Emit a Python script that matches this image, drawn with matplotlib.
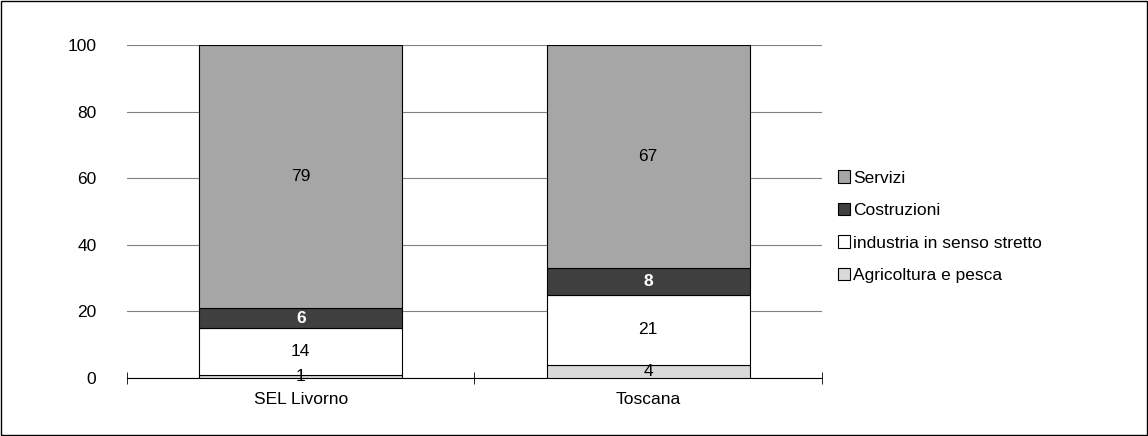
import matplotlib.pyplot as plt
import numpy as np

plt.rcParams['font.family'] = ['Liberation Sans', 'DejaVu Sans']

categories = ['SEL Livorno', 'Toscana']
series = ['Agricoltura e pesca', 'industria in senso stretto', 'Costruzioni', 'Servizi']
values = {
    'Agricoltura e pesca': [1, 4],
    'industria in senso stretto': [14, 21],
    'Costruzioni': [6, 8],
    'Servizi': [79, 67],
}
colors = {
    'Agricoltura e pesca': '#d9d9d9',
    'industria in senso stretto': '#ffffff',
    'Costruzioni': '#404040',
    'Servizi': '#a6a6a6',
}
FS = 12.5

fig = plt.figure(figsize=(11.48, 4.36), dpi=100)
fig.patches.append(plt.Rectangle((0.001, 0.002), 0.998, 0.996, transform=fig.transFigure,
                                 fill=False, edgecolor='black', linewidth=1))
ax = fig.add_axes([0.1106, 0.133, 0.6054, 0.764])

x = np.arange(len(categories))
bottom = np.zeros(len(categories))
handles = []
for s in series:
    v = np.array(values[s], dtype=float)
    b = ax.bar(x, v, 0.585, bottom=bottom, color=colors[s], edgecolor='black', linewidth=0.8, zorder=3, label=s)
    handles.append(b)
    for xi, vi, bi in zip(x, v, bottom):
        if s == 'Costruzioni':
            ax.text(xi, bi + vi / 2, f'{vi:.0f}', ha='center', va='center', color='white',
                    fontweight='bold', fontsize=FS, zorder=4)
        else:
            ax.text(xi, bi + vi / 2, f'{vi:.0f}', ha='center', va='center', color='black',
                    fontsize=FS, zorder=4)
    bottom += v

ax.set_xlim(-0.5, 1.5)
ax.set_ylim(0, 100)
ax.set_yticks(range(0, 101, 20))
ax.yaxis.grid(True, color='#808080', linewidth=0.8, zorder=0)
ax.set_xticks([0, 1])
ax.set_xticklabels(categories, fontsize=FS)
ax.set_xticks([-0.5, 0.5, 1.5], minor=True)
ax.tick_params(axis='x', which='major', length=0, pad=10)
ax.tick_params(axis='x', which='minor', length=8, direction='inout')
ax.tick_params(axis='y', length=0, labelsize=FS, pad=22)
for sp in ['top', 'right', 'left']:
    ax.spines[sp].set_visible(False)
ax.spines['bottom'].set_color('black')

fig.legend(handles[::-1], series[::-1], loc='center left', bbox_to_anchor=(0.716, 0.48),
           frameon=False, fontsize=FS, handlelength=0.7, handleheight=0.7,
           handletextpad=0.2, labelspacing=1.0)

fig.savefig('out.png', dpi=100)
